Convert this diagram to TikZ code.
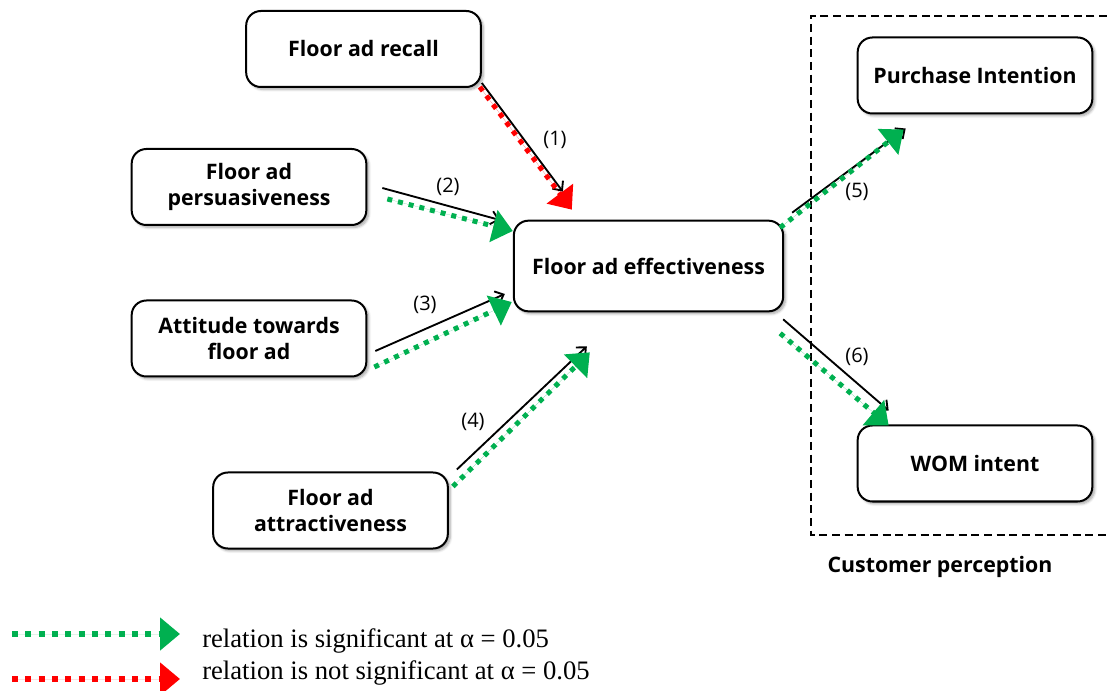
\documentclass[tikz,border=0pt]{standalone}
\usepackage{fontspec}
\setmainfont{Liberation Serif}
\newfontfamily\labelfont{Open Sans}
\usetikzlibrary{arrows.meta,shadows.blur,calc}
\definecolor{sigcol}{HTML}{00B050}
\definecolor{nsigcol}{HTML}{FF0000}

\begin{document}
\begin{tikzpicture}[x=0.75pt,y=-0.75pt,
  factor/.style={draw, line width=1.5pt, rounded corners=11pt, fill=white,
    minimum width=176pt, minimum height=57pt, align=center, inner sep=2pt,
    font=\labelfont\bfseries\fontsize{16}{20}\selectfont,
    blur shadow={shadow xshift=1.8pt, shadow yshift=-1.8pt, shadow blur steps=6, shadow opacity=35}},
  thinarrow/.style={line width=1.4pt, -{Straight Barb[length=5.5pt,width=10pt,line width=1.4pt]}},
  dotarrow/.style={line width=3.75pt, dash pattern=on 3.75pt off 4.5pt,
    -{Triangle[length=15pt,width=24pt]}},
  sig/.style={dotarrow, draw=sigcol, fill=sigcol},
  nsig/.style={dotarrow, draw=nsigcol, fill=nsigcol},
  keyline/.style={line width=4.3pt, dash pattern=on 4.5pt off 5.5pt},
  pathlabel/.style={font=\labelfont\fontsize{15}{18}\selectfont},
  legendtext/.style={anchor=base west, font=\fontsize{20}{24}\selectfont, inner sep=0pt}
]
\useasboundingbox (0,0) rectangle (1107,691);

% construct boxes
\node[factor] (rec) at (363.5,49) {Floor ad recall};
\node[factor] (per) at (249,187) {Floor ad\\persuasiveness};
\node[factor] (att) at (249,338.5) {Attitude towards\\floor ad};
\node[factor] (atr) at (330.5,510.5) {Floor ad\\attractiveness};
\node[factor, minimum width=202pt, minimum height=68pt] (eff) at (648.5,266) {Floor ad effectiveness};
\node[factor] (pur) at (975,75.5) {Purchase Intention};
\node[factor] (wom) at (975,463.5) {WOM intent};

% outcome group
\draw[line width=1.5pt, dash pattern=on 6pt off 3.5pt]
  (1107,16) -- (811,16) -- (811,535) -- (1107,535);
\node[font=\labelfont\bfseries\fontsize{16}{20}\selectfont] (grp) at (940,567) {Customer perception};

% path (1)
\draw[thinarrow] ($(rec.south east)+(0,-5)$) -- ($(eff.north west)+(50,-28)$);
\draw[nsig] ($(rec.south east)+(-2,-1)$) -- ($(eff.north west)+(59,-10)$);
\node[pathlabel] (l1) at (555,140) {(1)};

% path (2)
\draw[thinarrow] ($(per.east)+(15,1)$) -- ($(eff.west)+(-13,-46)$);
\draw[sig] ($(per.east)+(20,12)$) -- ($(eff.west)+(0,-35)$);
\node[pathlabel] (l2) at (448,187) {(2)};

% path (3)
\draw[thinarrow] ($(att.east)+(8,12.5)$) -- ($(eff.west)+(-8,28)$);
\draw[sig] ($(att.east)+(7,28.5)$) -- ($(eff.west)+(-1,36)$);
\node[pathlabel] (l3) at (425,305) {(3)};

% path (4)
\draw[thinarrow] ($(atr.north east)+(8,-2)$) -- ($(eff.south west)+(74,34)$);
\draw[sig] ($(atr.north east)+(4,15)$) -- ($(eff.south west)+(77,40)$);
\node[pathlabel] (l4) at (473,422) {(4)};

% path (5)
\draw[thinarrow] ($(eff.north east)+(8,-7)$) -- ($(pur.south west)+(49,14)$);
\draw[sig] ($(eff.north east)+(-4,8)$) -- ($(pur.south west)+(47,15)$);
\node[pathlabel] (l5) at (857,192) {(5)};

% path (6)
\draw[thinarrow] ($(eff.south east)+(-1,7)$) -- ($(wom.north west)+(32,-14)$);
\draw[sig] ($(eff.south east)+(-4,21)$) -- ($(wom.north west)+(32,1)$);
\node[pathlabel] (l6) at (857,357) {(6)};

% legend
\coordinate (gs) at (12,634);
\coordinate (ge) at (180,634);
\coordinate (rs) at (12,679);
\coordinate (re) at (180,679);
\draw[sig, keyline] (gs) -- (ge);
\draw[nsig, keyline] (rs) -- (re);
\node[legendtext] (t1) at (202,647) {relation is significant at α = 0.05};
\node[legendtext] (t2) at (202,679) {relation is not significant at α = 0.05};
\end{tikzpicture}
\end{document}
